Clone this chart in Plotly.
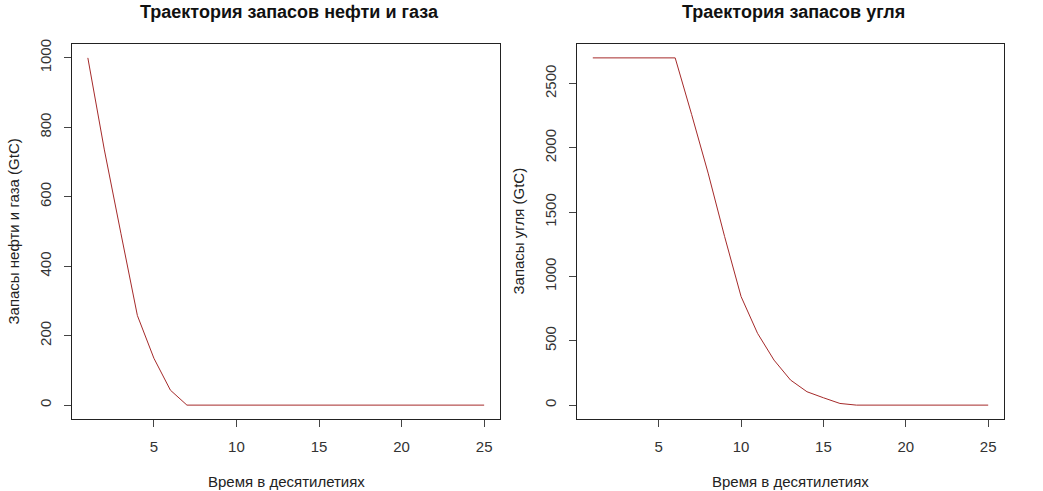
import plotly.graph_objects as go
from plotly.subplots import make_subplots

# decades 1..25
decades = list(range(1, 26))

# oil & gas stock (GtC)
oil_gas = [1000, 735, 495, 258, 135, 43, 0, 0, 0, 0, 0, 0, 0, 0, 0, 0, 0, 0, 0, 0, 0, 0, 0, 0, 0]

# coal stock (GtC)
coal = [2700, 2700, 2700, 2700, 2700, 2700, 2259, 1804, 1311, 844, 558, 350, 195, 104, 57, 13,
        0, 0, 0, 0, 0, 0, 0, 0, 0]

titles = ["Траектория запасов нефти и газа", "Траектория запасов угля"]
ytitles = ["Запасы нефти и газа (GtC)", "Запасы угля (GtC)"]
xtitle = "Время в десятилетиях"

line_col = "#A52A2A"
font_family = "Liberation Sans, Arial, sans-serif"

fig = make_subplots(rows=1, cols=2)

fig.add_trace(go.Scatter(x=decades, y=oil_gas, mode="lines",
                         line=dict(color=line_col, width=1)), row=1, col=1)
fig.add_trace(go.Scatter(x=decades, y=coal, mode="lines",
                         line=dict(color=line_col, width=1)), row=1, col=2)

axis_common = dict(
    showgrid=False, zeroline=False,
    showline=True, linecolor="#222", linewidth=1, mirror=True,
    ticks="outside", ticklen=7, tickcolor="#444", tickwidth=1,
    tickfont=dict(size=15, color="#333", family=font_family),
)

left_dom = [0, (500 - 72) / 932]
right_dom = [(577 - 72) / 932, 1]

fig.update_layout(
    width=1043, height=491,
    margin=dict(l=72, r=39, t=44, b=72),
    paper_bgcolor="white", plot_bgcolor="white",
    showlegend=False,
    font=dict(family=font_family, color="#222"),
    xaxis=dict(domain=left_dom, range=[0.04, 25.96], tickvals=[5, 10, 15, 20, 25],
               ticklabelstandoff=7, **axis_common),
    xaxis2=dict(domain=right_dom, range=[0.04, 25.96], tickvals=[5, 10, 15, 20, 25],
                ticklabelstandoff=7, **axis_common),
    yaxis=dict(range=[-40, 1040], tickvals=[0, 200, 400, 600, 800, 1000],
               tickangle=-90, ticklabelstandoff=7, **axis_common),
    yaxis2=dict(range=[-108, 2808], tickvals=[0, 500, 1000, 1500, 2000, 2500],
                tickangle=-90, ticklabelstandoff=7, **axis_common),
)

annotations = []
for i, (xr, yr) in enumerate([("x domain", "y domain"), ("x2 domain", "y2 domain")]):
    annotations.append(dict(text="<b>" + titles[i] + "</b>", xref=xr, yref="paper",
                            x=0.5, y=1, xshift=3, yshift=32, xanchor="center", yanchor="middle",
                            showarrow=False,
                            font=dict(size=18, color="#111", family=font_family)))
    annotations.append(dict(text=xtitle, xref=xr, yref="paper", x=0.5, y=0,
                            yshift=-62, xanchor="center", yanchor="middle",
                            showarrow=False,
                            font=dict(size=15, color="#222", family=font_family)))
    annotations.append(dict(text=ytitles[i], xref=xr, yref=yr, x=0, y=0.5,
                            xshift=-59, xanchor="center", yanchor="middle",
                            textangle=-90, showarrow=False,
                            font=dict(size=15, color="#222", family=font_family)))
fig.update_layout(annotations=annotations)

# drop the default page margin so the figure sits at the window origin
fig.write_html("out.html", config={"displayModeBar": False},
               post_script="document.body.style.margin='0';")
